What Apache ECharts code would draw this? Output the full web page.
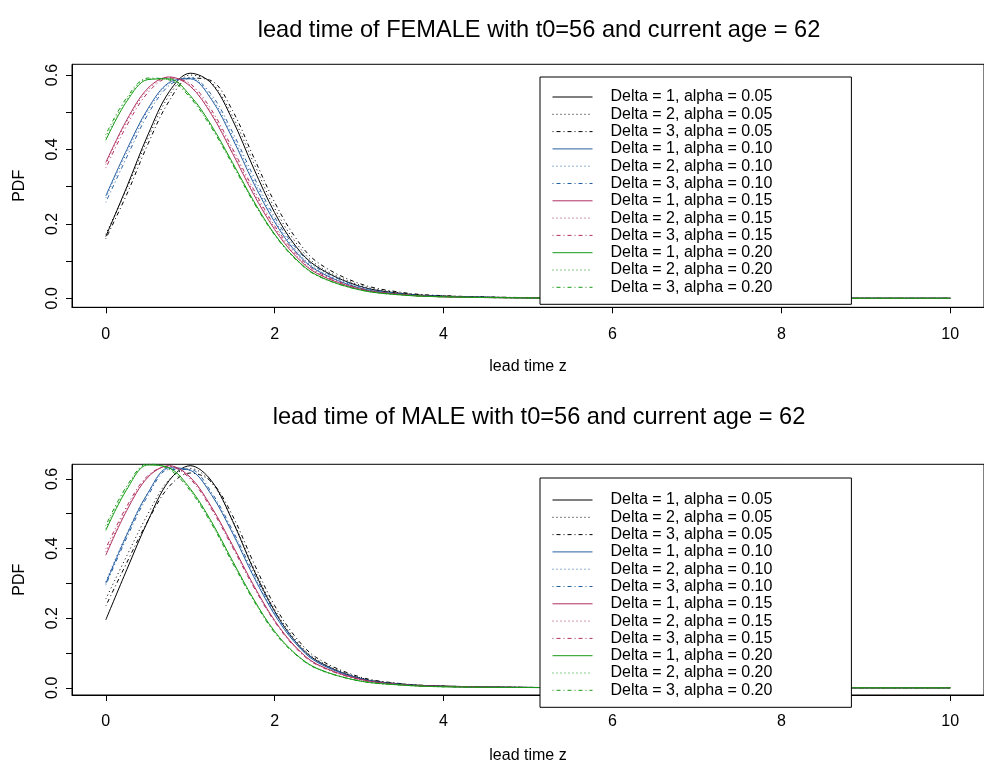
<!DOCTYPE html>
<html>
<head>
<meta charset="utf-8">
<script src="https://cdn.jsdelivr.net/npm/echarts@6/dist/echarts.min.js"></script>
<style>
html,body{margin:0;padding:0;background:#fff;}
#chart{width:984px;height:765px;}
</style>
</head>
<body>
<div id="chart"></div>
<script>
// shared x grid (lead time z)
const leadTime = [0, 0.25, 0.5, 0.75, 1, 1.25, 1.5, 1.75, 2, 2.25, 2.5, 3, 3.5, 4, 5, 6, 8, 10];

const seriesNames = [
  'Delta = 1, alpha = 0.05', 'Delta = 2, alpha = 0.05', 'Delta = 3, alpha = 0.05',
  'Delta = 1, alpha = 0.10', 'Delta = 2, alpha = 0.10', 'Delta = 3, alpha = 0.10',
  'Delta = 1, alpha = 0.15', 'Delta = 2, alpha = 0.15', 'Delta = 3, alpha = 0.15',
  'Delta = 1, alpha = 0.20', 'Delta = 2, alpha = 0.20', 'Delta = 3, alpha = 0.20'
];
const xTicks = [0, 2, 4, 6, 8, 10];
const yTickLabels = [0, 0.2, 0.4, 0.6];
const yTicks = [0, 0.1, 0.2, 0.3, 0.4, 0.5, 0.6];

// FEMALE panel
const femA05D1 = [0.166, 0.300, 0.440, 0.555, 0.605, 0.578, 0.480, 0.350, 0.230, 0.140, 0.085, 0.033, 0.013, 0.006, 0.0015, 0.0005, 0.0001, 0.00003];
const femA05D2 = [0.172, 0.295, 0.430, 0.545, 0.600, 0.580, 0.490, 0.365, 0.242, 0.150, 0.090, 0.036, 0.014, 0.006, 0.0016, 0.0005, 0.0001, 0.00003];
const femA05D3 = [0.160, 0.280, 0.415, 0.530, 0.592, 0.585, 0.505, 0.380, 0.258, 0.162, 0.098, 0.040, 0.016, 0.007, 0.0018, 0.0006, 0.0001, 0.00003];
const femA10D1 = [0.275, 0.400, 0.510, 0.580, 0.590, 0.535, 0.430, 0.310, 0.205, 0.125, 0.075, 0.028, 0.011, 0.005, 0.0012, 0.0004, 0.0001, 0.00003];
const femA10D2 = [0.270, 0.392, 0.505, 0.577, 0.592, 0.540, 0.437, 0.318, 0.210, 0.130, 0.078, 0.030, 0.011, 0.005, 0.0012, 0.0004, 0.0001, 0.00003];
const femA10D3 = [0.258, 0.380, 0.495, 0.572, 0.593, 0.548, 0.447, 0.328, 0.218, 0.136, 0.082, 0.032, 0.012, 0.005, 0.0013, 0.0004, 0.0001, 0.00003];
const femA15D1 = [0.365, 0.480, 0.565, 0.595, 0.570, 0.495, 0.390, 0.280, 0.185, 0.113, 0.067, 0.025, 0.010, 0.004, 0.0011, 0.0004, 0.0001, 0.00003];
const femA15D2 = [0.360, 0.475, 0.560, 0.594, 0.573, 0.500, 0.396, 0.286, 0.190, 0.117, 0.069, 0.026, 0.010, 0.004, 0.0011, 0.0004, 0.0001, 0.00003];
const femA15D3 = [0.350, 0.465, 0.553, 0.592, 0.577, 0.507, 0.403, 0.293, 0.195, 0.121, 0.072, 0.027, 0.010, 0.004, 0.0011, 0.0004, 0.0001, 0.00003];
const femA20D1 = [0.425, 0.530, 0.588, 0.590, 0.545, 0.465, 0.365, 0.262, 0.172, 0.106, 0.062, 0.023, 0.009, 0.004, 0.0010, 0.0003, 0.0001, 0.00003];
const femA20D2 = [0.432, 0.535, 0.590, 0.589, 0.542, 0.462, 0.362, 0.260, 0.171, 0.105, 0.062, 0.023, 0.009, 0.004, 0.0010, 0.0003, 0.0001, 0.00003];
const femA20D3 = [0.440, 0.540, 0.592, 0.587, 0.539, 0.459, 0.360, 0.258, 0.170, 0.104, 0.061, 0.023, 0.009, 0.004, 0.0010, 0.0003, 0.0001, 0.00003];

// MALE panel
const malA05D1 = [0.195, 0.340, 0.480, 0.595, 0.638, 0.595, 0.480, 0.340, 0.220, 0.132, 0.078, 0.028, 0.011, 0.005, 0.0012, 0.0004, 0.0001, 0.00003];
const malA05D2 = [0.255, 0.380, 0.500, 0.598, 0.630, 0.590, 0.482, 0.345, 0.225, 0.137, 0.081, 0.030, 0.011, 0.005, 0.0012, 0.0004, 0.0001, 0.00003];
const malA05D3 = [0.235, 0.360, 0.480, 0.578, 0.617, 0.592, 0.495, 0.360, 0.236, 0.145, 0.086, 0.032, 0.012, 0.005, 0.0013, 0.0004, 0.0001, 0.00003];
const malA10D1 = [0.300, 0.440, 0.560, 0.632, 0.625, 0.555, 0.445, 0.320, 0.210, 0.127, 0.074, 0.027, 0.010, 0.004, 0.0011, 0.0004, 0.0001, 0.00003];
const malA10D2 = [0.305, 0.443, 0.560, 0.630, 0.624, 0.556, 0.447, 0.323, 0.212, 0.129, 0.075, 0.027, 0.010, 0.004, 0.0011, 0.0004, 0.0001, 0.00003];
const malA10D3 = [0.295, 0.432, 0.552, 0.627, 0.627, 0.562, 0.453, 0.330, 0.217, 0.132, 0.077, 0.028, 0.010, 0.004, 0.0011, 0.0004, 0.0001, 0.00003];
const malA15D1 = [0.381, 0.510, 0.605, 0.638, 0.605, 0.520, 0.410, 0.295, 0.193, 0.117, 0.068, 0.025, 0.009, 0.004, 0.0010, 0.0003, 0.0001, 0.00003];
const malA15D2 = [0.390, 0.515, 0.607, 0.637, 0.603, 0.518, 0.408, 0.293, 0.192, 0.116, 0.067, 0.025, 0.009, 0.004, 0.0010, 0.0003, 0.0001, 0.00003];
const malA15D3 = [0.400, 0.522, 0.610, 0.636, 0.600, 0.514, 0.404, 0.290, 0.190, 0.114, 0.066, 0.024, 0.009, 0.004, 0.0010, 0.0003, 0.0001, 0.00003];
const malA20D1 = [0.452, 0.570, 0.640, 0.632, 0.572, 0.478, 0.365, 0.255, 0.162, 0.097, 0.056, 0.020, 0.008, 0.003, 0.0009, 0.0003, 0.0001, 0.00003];
const malA20D2 = [0.458, 0.575, 0.642, 0.630, 0.569, 0.475, 0.362, 0.253, 0.160, 0.096, 0.055, 0.020, 0.008, 0.003, 0.0009, 0.0003, 0.0001, 0.00003];
const malA20D3 = [0.466, 0.580, 0.644, 0.628, 0.566, 0.472, 0.359, 0.251, 0.158, 0.095, 0.055, 0.020, 0.008, 0.003, 0.0009, 0.0003, 0.0001, 0.00003];

const femaleCurves = [femA05D1, femA05D2, femA05D3, femA10D1, femA10D2, femA10D3, femA15D1, femA15D2, femA15D3, femA20D1, femA20D2, femA20D3];
const maleCurves = [malA05D1, malA05D2, malA05D3, malA10D1, malA10D2, malA10D3, malA15D1, malA15D2, malA15D3, malA20D1, malA20D2, malA20D3];

const groupColors = ['#000000', '#2660A4', '#B03060', '#179B17'];
const lineTypes = ['solid', [1, 3], [1, 3, 4, 3]];

const FONT = '"Liberation Sans", Arial, Helvetica, sans-serif';

function mkSeries(curves, idx) {
  return curves.map((vals, i) => ({
    name: seriesNames[i],
    type: 'line',
    xAxisIndex: idx,
    yAxisIndex: idx,
    data: leadTime.map((x, k) => [x, vals[k]]),
    smooth: 0.35,
    symbol: 'none',
    showSymbol: false,
    animation: false,
    lineStyle: { color: groupColors[Math.floor(i / 3)], width: 1, type: lineTypes[i % 3] },
    itemStyle: { color: groupColors[Math.floor(i / 3)] },
    emphasis: { disabled: true }
  }));
}

function mkX(idx, gap) {
  return {
    gridIndex: idx, type: 'value', min: -0.4, max: 10.4,
    name: 'lead time z', nameLocation: 'middle', nameGap: gap,
    nameTextStyle: { fontFamily: FONT, fontSize: 16, color: '#000' },
    axisLine: { show: true, onZero: false, lineStyle: { color: '#000', width: 1 } },
    axisTick: { show: true, customValues: xTicks, length: 6, lineStyle: { color: '#000' } },
    axisLabel: { customValues: xTicks, fontFamily: FONT, fontSize: 16, color: '#000', margin: 19 },
    splitLine: { show: false }
  };
}
function mkY(idx, min, max) {
  return {
    gridIndex: idx, type: 'value', min: min, max: max,
    name: 'PDF', nameLocation: 'middle', nameGap: 44,
    nameTextStyle: { fontFamily: FONT, fontSize: 16, color: '#000' },
    axisLine: { show: true, onZero: false, lineStyle: { color: '#000', width: 1 } },
    axisTick: { show: true, customValues: yTicks, length: 6, lineStyle: { color: '#000' } },
    axisLabel: { customValues: yTickLabels, rotate: 90, align: 'center', verticalAlign: 'bottom', margin: 11,
      fontFamily: FONT, fontSize: 16, color: '#000', formatter: v => v.toFixed(1) },
    splitLine: { show: false }
  };
}
function mkLegend(top, padTop, padBottom) {
  return {
    data: seriesNames, orient: 'vertical', left: 540, top: top,
    itemWidth: 40, itemHeight: 10, itemGap: 1.3,
    padding: [padTop, 79, padBottom, 12],
    borderColor: '#000', borderWidth: 1, backgroundColor: '#fff',
    selectedMode: false,
    lineStyle: { width: 1 },
    textStyle: { fontFamily: FONT, fontSize: 16, lineHeight: 16, color: '#000', padding: [0, 0, 0, 13] },
    itemStyle: { opacity: 0 }
  };
}

const chart = echarts.init(document.getElementById('chart'), null, { renderer: 'canvas' });
chart.setOption({
  animation: false,
  backgroundColor: '#fff',
  title: [
    { text: 'lead time of FEMALE with t0=56 and current age = 62', left: 534, top: 13, textAlign: 'center',
      textStyle: { fontFamily: FONT, fontSize: 23.6, fontWeight: 'normal', color: '#000' } },
    { text: 'lead time of MALE with t0=56 and current age = 62', left: 534, top: 400, textAlign: 'center',
      textStyle: { fontFamily: FONT, fontSize: 23.6, fontWeight: 'normal', color: '#000' } }
  ],
  grid: [
    { left: 72, top: 64.3, width: 923, height: 243, show: true, borderColor: '#000', borderWidth: 1, backgroundColor: 'transparent' },
    { left: 72, top: 464.3, width: 923, height: 234.7, show: true, borderColor: '#000', borderWidth: 1, backgroundColor: 'transparent' }
  ],
  xAxis: [mkX(0, 51), mkX(1, 53)],
  yAxis: [mkY(0, -0.0242, 0.629), mkY(1, -0.0206, 0.642)],
  legend: [mkLegend(77, 12, 9), mkLegend(478, 14, 9)],
  series: mkSeries(femaleCurves, 0).concat(mkSeries(maleCurves, 1))
});
</script>
</body>
</html>
